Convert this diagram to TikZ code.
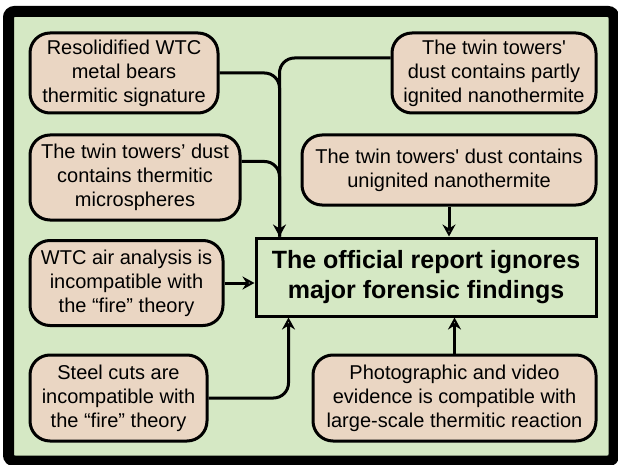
\documentclass[tikz,border=0pt]{standalone}
\usepackage{fontspec}
\setmainfont{Liberation Sans}
\usetikzlibrary{arrows.meta}

\definecolor{panelgreen}{RGB}{213,232,196}
\definecolor{findtan}{RGB}{234,214,195}

\begin{document}
\begin{tikzpicture}[x=1pt, y=-1pt,
    finding/.style={draw, line width=3pt, fill=findtan, rounded corners=20pt,
      align=center, inner sep=2pt, font=\fontsize{20}{24}\selectfont},
    claim/.style={draw, line width=3pt, fill=panelgreen, align=center,
      font=\fontsize{25}{30}\selectfont\bfseries},
    link/.style={line width=3pt, rounded corners=15pt},
    tip/.style={-{Stealth[open, length=12pt, width=13pt, inset=4pt]}}]
    \useasboundingbox (0,0) rectangle (618,465);

    % Frame
    \draw[line width=11pt, rounded corners=6pt, fill=panelgreen] (8.5,11.5) rectangle (614,461);

    % Conclusion
    \node[claim, minimum width=340pt, minimum height=78pt] (main) at (426,277)
      {The official report ignores\\major forensic findings};

    % Findings, left column
    \node[finding, minimum width=188pt, minimum height=80pt] (metal) at (124,73)
      {Resolidified WTC\\metal bears\\thermitic signature};
    \node[finding, minimum width=210pt, minimum height=85pt] (spheres) at (135,177.5)
      {The twin towers’ dust\\contains thermitic\\microspheres};
    \node[finding, minimum width=193pt, minimum height=85pt] (air) at (126.5,283)
      {WTC air analysis is\\incompatible with\\the “fire” theory};
    \node[finding, minimum width=177pt, minimum height=86pt] (cuts) at (118.5,398)
      {Steel cuts are\\incompatible with\\the “fire” theory};

    % Findings, right column
    \node[finding, minimum width=204pt, minimum height=80pt] (partly) at (494,73)
      {The twin towers\textquotesingle\\dust contains partly\\ignited nanothermite};
    \node[finding, minimum width=294pt, minimum height=70pt] (unignited) at (449,170)
      {The twin towers\textquotesingle{} dust contains\\unignited nanothermite};
    \node[finding, minimum width=283pt, minimum height=86pt] (video) at (454.5,398)
      {Photographic and video\\evidence is compatible with\\large-scale thermitic reaction};

    % Connectors into the top
    \coordinate (topin) at ([xshift=25pt]main.north west);
    \draw[link] ([yshift=15pt]partly.west) -| (topin);
    \draw[link] ([yshift=16pt]spheres.east) -| (topin);
    \draw[link, tip] (metal.east) -| (topin);
    \draw[link, tip] (unignited.south) -- (unignited.south |- main.north);

    % Connectors into the side and bottom
    \draw[link, tip] (air.east) -- (air.east -| main.west);
    \draw[link, tip] (cuts.east) -| ([xshift=34pt]main.south west);
    \draw[link, tip] (video.north) -- (video.north |- main.south);
  \end{tikzpicture}
\end{document}
